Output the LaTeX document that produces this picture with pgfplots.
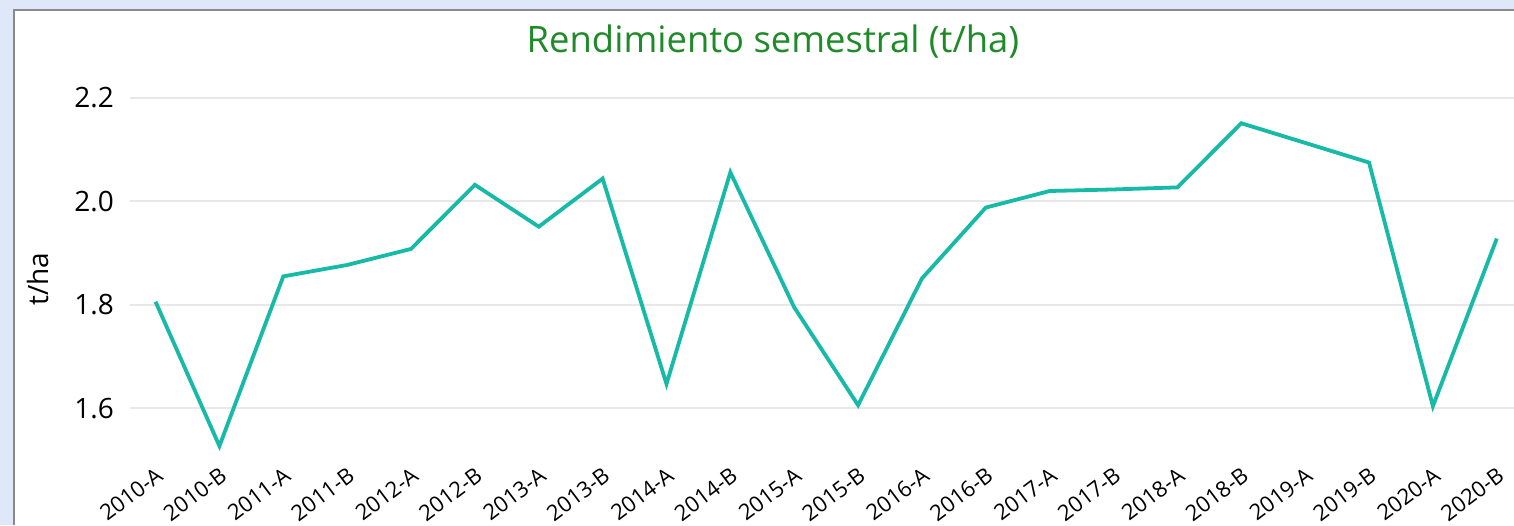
\documentclass[border=0pt]{standalone}
\usepackage{pgfplots}
\pgfplotsset{compat=1.18}
\usepackage{fontspec}
\setmainfont{Open Sans}
\definecolor{bgblue}{RGB}{222,232,248}
\definecolor{panelborder}{RGB}{138,138,138}
\definecolor{linecol}{RGB}{22,186,166}
\definecolor{titlegreen}{RGB}{30,138,40}
\definecolor{gridcol}{RGB}{232,232,232}
\begin{document}
\begin{tikzpicture}
\path[use as bounding box, fill=bgblue] (0pt,0pt) rectangle (757pt,-262.5pt);
\fill[white] (7pt,-4.75pt) rectangle (757pt,-262.5pt);
\draw[panelborder, line width=1pt] (7pt,-262.5pt) -- (7pt,-4.75pt) -- (757pt,-4.75pt);
\begin{axis}[
  at={(65pt,-230pt)}, anchor=south west,
  scale only axis, width=692pt, height=194pt,
  xmin=-0.4, xmax=21.27, ymin=1.5, ymax=2.25,
  axis line style={draw=none},
  major tick length=0pt,
  ymajorgrids, grid style={color=gridcol, line width=1pt},
  ytick={1.6,1.8,2.0,2.2},
  yticklabel style={/pgf/number format/fixed, /pgf/number format/fixed zerofill, /pgf/number format/precision=1, /pgf/number format/assume math mode=true, font=\fontsize{14}{15}\selectfont, anchor=east, xshift=-4.5pt},
  xtick={0,...,21},
  xticklabels={2010-A,2010-B,2011-A,2011-B,2012-A,2012-B,2013-A,2013-B,2014-A,2014-B,2015-A,2015-B,2016-A,2016-B,2017-A,2017-B,2018-A,2018-B,2019-A,2019-B,2020-A,2020-B},
  xticklabel style={rotate=37, anchor=north east, font=\fontsize{11}{12}\selectfont, inner sep=1pt, yshift=-1pt, xshift=-1pt},
  clip=false,
]
\addplot[linecol, line width=1.9pt, line join=miter] coordinates {
(0,1.806) (1,1.527) (2,1.855) (3,1.877) (4,1.908) (5,2.032) (6,1.951) (7,2.044)
(8,1.647) (9,2.056) (10,1.795) (11,1.606) (12,1.851) (13,1.988) (14,2.020) (15,2.023)
(16,2.027) (17,2.151) (18,2.113) (19,2.075) (20,1.604) (21,1.928)
};
\end{axis}
\node[text=titlegreen, font=\fontsize{18.2}{20}\selectfont] at (386.5pt,-21pt) {Rendimiento semestral (t/ha)};
\node[rotate=90, font=\fontsize{14}{15}\selectfont] at (19pt,-139.5pt) {t/ha};
\end{tikzpicture}
\end{document}
